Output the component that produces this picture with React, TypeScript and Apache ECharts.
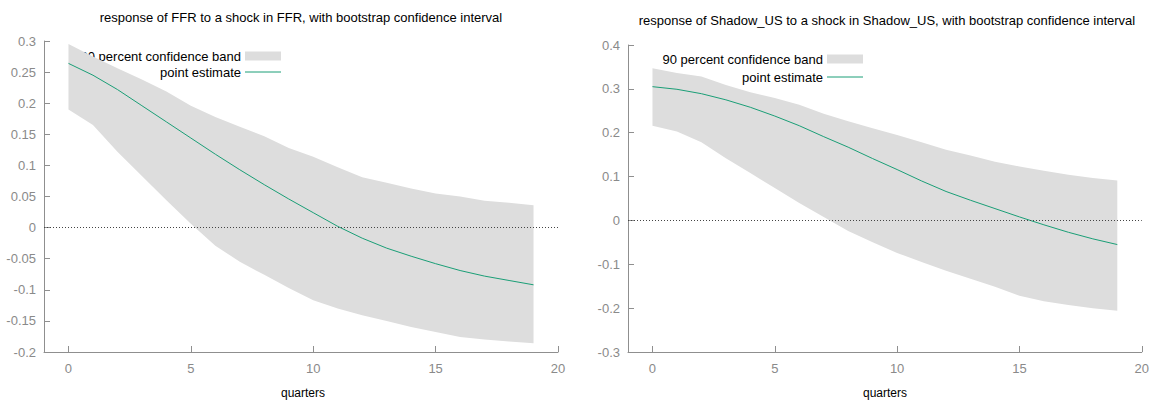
import React, { useEffect, useRef } from "react";
import * as echarts from "echarts";

// Impulse horizon (quarters)
const quarters = [0, 1, 2, 3, 4, 5, 6, 7, 8, 9, 10, 11, 12, 13, 14, 15, 16, 17, 18, 19];

// Response of FFR to a shock in FFR
const ffrPoint = [0.264, 0.245, 0.222, 0.196, 0.170, 0.144, 0.118, 0.093, 0.069, 0.046, 0.024, 0.002, -0.017, -0.033, -0.046, -0.058, -0.069, -0.078, -0.085, -0.092];
const ffrUpper = [0.295, 0.275, 0.256, 0.238, 0.219, 0.196, 0.178, 0.162, 0.147, 0.128, 0.114, 0.097, 0.081, 0.072, 0.063, 0.055, 0.050, 0.043, 0.040, 0.036];
const ffrLower = [0.190, 0.165, 0.122, 0.083, 0.044, 0.006, -0.029, -0.055, -0.076, -0.097, -0.117, -0.130, -0.141, -0.150, -0.160, -0.168, -0.176, -0.180, -0.183, -0.186];

// Response of Shadow_US to a shock in Shadow_US
const shadowPoint = [0.305, 0.299, 0.289, 0.275, 0.258, 0.238, 0.216, 0.191, 0.167, 0.141, 0.116, 0.090, 0.066, 0.046, 0.027, 0.008, -0.010, -0.027, -0.042, -0.055];
const shadowUpper = [0.347, 0.336, 0.328, 0.309, 0.292, 0.279, 0.264, 0.243, 0.226, 0.210, 0.195, 0.178, 0.161, 0.148, 0.134, 0.123, 0.113, 0.104, 0.097, 0.091];
const shadowLower = [0.216, 0.203, 0.178, 0.142, 0.108, 0.074, 0.040, 0.008, -0.024, -0.050, -0.074, -0.095, -0.115, -0.133, -0.151, -0.172, -0.184, -0.193, -0.200, -0.206];

// Axis tick labels
const xTicks = [0, 5, 10, 15, 20];
const ffrYTicks = { min: -0.2, max: 0.3, step: 0.05 };
const shadowYTicks = { min: -0.3, max: 0.4, step: 0.1 };

const titles = [
  "response of FFR to a shock in FFR, with bootstrap confidence interval",
  "response of Shadow_US to a shock in Shadow_US, with bootstrap confidence interval",
];
const bandName = "90 percent confidence band";
const pointName = "point estimate";
const xName = "quarters";

const FONT = "'Liberation Sans', Arial, Helvetica, sans-serif";
const GREEN = "#1a9e76";
const BAND = "#dddddd";
const AXIS = "#8f8f8f";
const LABEL = "#8a8a8a";

const fmt = (v: number) => String(Math.round(v * 100) / 100);

function xAxisFor(gridIndex: number) {
  return {
    type: "value",
    gridIndex,
    min: -1,
    max: 20,
    splitLine: { show: false },
    axisLine: { onZero: false, lineStyle: { color: AXIS, width: 1 } },
    axisTick: { inside: true, length: 6, customValues: xTicks, lineStyle: { color: AXIS } },
    axisLabel: { customValues: xTicks, color: LABEL, fontSize: 13, fontFamily: FONT, margin: 10 },
  };
}

function yAxisFor(gridIndex: number, t: { min: number; max: number; step: number }) {
  return {
    type: "value",
    gridIndex,
    min: t.min,
    max: t.max,
    interval: t.step,
    splitLine: { show: false },
    axisLine: { show: true, onZero: false, lineStyle: { color: AXIS, width: 1 } },
    axisTick: { show: true, inside: true, length: 6, lineStyle: { color: AXIS } },
    axisLabel: { color: LABEL, fontSize: 13, fontFamily: FONT, margin: 8, formatter: fmt },
  };
}

function panelSeries(idx: number, point: number[], upper: number[], lower: number[]) {
  return [
    {
      // confidence band: one polygon through the upper bounds and back along the lower bounds
      type: "custom",
      name: bandName,
      xAxisIndex: idx,
      yAxisIndex: idx,
      data: quarters.map((q, i) => [q, lower[i], upper[i]]),
      encode: { x: 0, y: [1, 2] },
      silent: true,
      z: 2,
      renderItem: (params: any, api: any) => {
        if (params.dataIndex !== 0) return null;
        const top = quarters.map((q, i) => api.coord([q, upper[i]]));
        const bottom = quarters.map((q, i) => api.coord([q, lower[i]])).reverse();
        return {
          type: "polygon",
          shape: { points: top.concat(bottom) },
          style: { fill: BAND, stroke: null },
        };
      },
    },
    {
      type: "line",
      name: pointName,
      xAxisIndex: idx,
      yAxisIndex: idx,
      data: quarters.map((q, i) => [q, point[i]]),
      symbol: "none",
      lineStyle: { color: GREEN, width: 1 },
      silent: true,
      z: 3,
      markLine: {
        silent: true,
        symbol: ["none", "none"],
        label: { show: false },
        lineStyle: { color: "#444", type: [1, 2], width: 1 },
        data: [{ yAxis: 0 }],
      },
    },
  ];
}

function legendGraphics(textRight: number, bandY: number, lineY: number) {
  return [
    {
      type: "text",
      z: 1,
      x: textRight,
      y: bandY,
      style: { text: bandName, align: "right", verticalAlign: "middle", fontSize: 13, fontFamily: FONT, fill: "#000" },
    },
    {
      type: "rect",
      z: 1,
      shape: { x: textRight + 4, y: bandY - 4.5, width: 36, height: 9 },
      style: { fill: BAND },
    },
    {
      type: "text",
      z: 1,
      x: textRight,
      y: lineY,
      style: { text: pointName, align: "right", verticalAlign: "middle", fontSize: 13, fontFamily: FONT, fill: "#000" },
    },
    {
      type: "line",
      z: 1,
      shape: { x1: textRight + 4, y1: lineY, x2: textRight + 40, y2: lineY },
      style: { stroke: GREEN, lineWidth: 1 },
    },
  ];
}

function textAt(text: string, x: number, y: number, size: number) {
  return {
    type: "text",
    z: 1,
    x,
    y,
    style: { text, align: "center", verticalAlign: "middle", fontSize: size, fontFamily: FONT, fill: "#000" },
  };
}

export default function App() {
  const ref = useRef<HTMLDivElement>(null);

  useEffect(() => {
    if (!ref.current) return;
    const chart = echarts.init(ref.current, undefined, { renderer: "svg" });
    chart.setOption({
      animation: false,
      backgroundColor: "#ffffff",
      grid: [
        { left: 44, right: 594, top: 41, bottom: 50 },
        { left: 628, right: 9, top: 45, bottom: 50 },
      ],
      xAxis: [xAxisFor(0), xAxisFor(1)],
      yAxis: [yAxisFor(0, ffrYTicks), yAxisFor(1, shadowYTicks)],
      series: [
        ...panelSeries(0, ffrPoint, ffrUpper, ffrLower),
        ...panelSeries(1, shadowPoint, shadowUpper, shadowLower),
      ],
      graphic: [
        textAt(titles[0], 301, 17, 13),
        textAt(titles[1], 887, 20, 13),
        textAt(xName, 303, 393, 12),
        textAt(xName, 885, 393, 12),
        ...legendGraphics(241, 56, 72),
        ...legendGraphics(823, 59, 77),
      ],
    });
    return () => chart.dispose();
  }, []);

  return (
    <div
      ref={ref}
      style={{ position: "fixed", left: 0, top: 0, width: 1152, height: 402, background: "#fff" }}
    />
  );
}
